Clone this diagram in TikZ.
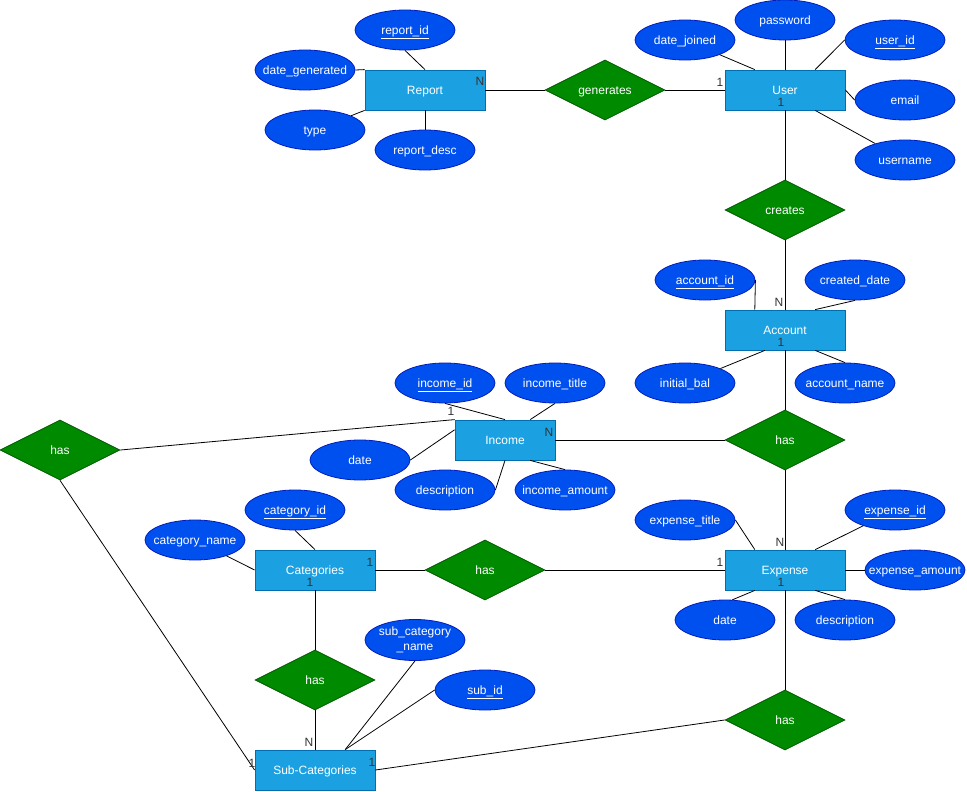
\documentclass[tikz,border=0pt]{standalone}
\usepackage{fontspec}
\setmainfont{Liberation Sans}
\usepackage{tikz}
\usetikzlibrary{positioning,calc,shapes.geometric}
\definecolor{entfill}{HTML}{1BA1E2}
\definecolor{entline}{HTML}{006EAF}
\definecolor{relfill}{HTML}{008A00}
\definecolor{relline}{HTML}{005700}
\definecolor{attfill}{HTML}{0050EF}
\definecolor{attline}{HTML}{001DBC}
\newcommand{\attrtxt}[1]{\makebox[0pt]{#1}}
\newcommand{\keytxt}[1]{\makebox[0pt]{\underline{#1}}}

\begin{document}
\begin{tikzpicture}[x=1pt,y=-1pt,
  every node/.style={font=\fontsize{12}{14}\selectfont,text height=10.86pt,text depth=2.54pt},
  entity/.style={rectangle,draw=entline,fill=entfill,text=white,minimum width=120pt,minimum height=40pt,inner sep=0pt,line width=0.8pt},
  relation/.style={diamond,aspect=2,draw=relline,fill=relfill,text=white,minimum width=120pt,minimum height=60pt,inner sep=0pt,line width=0.8pt},
  attrib/.style={ellipse,draw=attline,fill=attfill,text=white,minimum width=100pt,minimum height=40pt,inner sep=0pt,line width=0.8pt},
  card/.style={text=black!80,inner sep=0pt},
  link/.style={draw=black,line width=0.8pt}]
  \useasboundingbox (0,0) rectangle (967,792);

  \node[entity] (report) at (425,90) {Report};
  \node[entity] (user) at (785,90) {User};
  \node[entity] (account) at (785,330) {Account};
  \node[entity,minimum width=100pt] (income) at (505,440) {Income};
  \node[entity] (expense) at (785,570) {Expense};
  \node[entity] (categories) at (315,570) {Categories};
  \node[entity] (subcat) at (315,770) {Sub-Categories};

  \node[relation] (generates) at (605,90) {generates};
  \node[relation] (creates) at (785,210) {creates};
  \node[relation] (hasexp) at (785,440) {has};
  \node[relation] (hascat) at (485,570) {has};
  \node[relation] (hassub) at (315,680) {has};
  \node[relation] (hasexpsub) at (785,720) {has};
  \node[relation] (hasinc) at (60,450) {has};

  \node[attrib] (reportid) at (405,30) {\keytxt{report\_id}};
  \node[attrib] (dategen) at (305,70) {\attrtxt{date\_generated}};
  \node[attrib] (rtype) at (315,130) {\attrtxt{type}};
  \node[attrib] (rdesc) at (425,150) {\attrtxt{report\_desc}};
  \node[attrib] (password) at (785,20) {\attrtxt{password}};
  \node[attrib] (datejoined) at (685,40) {\attrtxt{date\_joined}};
  \node[attrib] (userid) at (895,40) {\keytxt{user\_id}};
  \node[attrib] (email) at (905,100) {\attrtxt{email}};
  \node[attrib] (username) at (905,160) {\attrtxt{username}};
  \node[attrib] (accid) at (705,280) {\keytxt{account\_id}};
  \node[attrib] (created) at (855,280) {\attrtxt{created\_date}};
  \node[attrib] (initbal) at (685,383) {\attrtxt{initial\_bal}};
  \node[attrib] (accname) at (845,383) {\attrtxt{account\_name}};
  \node[attrib] (incid) at (445,383) {\keytxt{income\_id}};
  \node[attrib] (inctitle) at (555,383) {\attrtxt{income\_title}};
  \node[attrib] (incdate) at (360,460) {\attrtxt{date}};
  \node[attrib] (incdesc) at (445,490) {\attrtxt{description}};
  \node[attrib] (incamt) at (565,490) {\attrtxt{income\_amount}};
  \node[attrib] (catid) at (295,510) {\keytxt{category\_id}};
  \node[attrib] (catname) at (195,540) {\attrtxt{category\_name}};
  \node[attrib] (exptitle) at (685,520) {\attrtxt{expense\_title}};
  \node[attrib] (expid) at (895,510) {\keytxt{expense\_id}};
  \node[attrib] (expamt) at (915,570) {\attrtxt{expense\_amount}};
  \node[attrib] (expdate) at (725,620) {\attrtxt{date}};
  \node[attrib] (expdesc) at (845,620) {\attrtxt{description}};
  \node[attrib,text height=,text depth=] (subname) at (415,640)
    {\makebox[0pt]{\begin{tabular}{@{}c@{}}sub\_category\\[1pt]\_name\end{tabular}}};
  \node[attrib] (subid) at (485,690) {\keytxt{sub\_id}};

  \draw[link] (reportid.south) -- (report.north);
  \draw[link] (dategen.east) -- (report.north west);
  \draw[link] (rtype) -- (report.south west);
  \draw[link] (rdesc.north) -- (report.south);
  \draw[link] (report.east) -- (generates.west);
  \draw[link] (generates.east) -- (user.west);
  \draw[link] (datejoined) -- ($(user.north west)!0.25!(user.north east)$);
  \draw[link] (password.south) -- (user.north);
  \draw[link] (userid.west) -- ($(user.north west)!0.75!(user.north east)$);
  \draw[link] (user.east) -- (email.west);
  \draw[link] (username) -- ($(user.south west)!0.75!(user.south east)$);
  \draw[link] (user.south) -- (creates.north);
  \draw[link] (creates.south) -- (account.north);
  \draw[link] (accid.east) -- ($(account.north west)!0.25!(account.north east)$);
  \draw[link] (created.south) -- ($(account.north west)!0.75!(account.north east)$);
  \draw[link] (initbal) -- ($(account.south west)!1/3!(account.south east)$);
  \draw[link] (accname.north) -- ($(account.south west)!0.75!(account.south east)$);
  \draw[link] (account.south) -- (hasexp.north);
  \draw[link] (hasexp.south) -- (expense.north);
  \draw[link] (income.east) -- (hasexp.west);
  \draw[link] (incid.south) -- (income.north);
  \draw[link] (inctitle.south) -- ($(income.north west)!0.75!(income.north east)$);
  \draw[link] (incdate.east) -- ($(income.north west)!0.25!(income.south west)$);
  \draw[link] (incdesc.east) -- (income.south);
  \draw[link] (incamt.north) -- ($(income.south west)!0.75!(income.south east)$);
  \draw[link] (hasinc.east) -- (income.north west);
  \draw[link] (hasinc.south) -- (subcat.west);
  \draw[link] (catid.south) -- (categories.north);
  \draw[link] (catname) -- (categories.west);
  \draw[link] (categories.east) -- (hascat.west);
  \draw[link] (hascat.east) -- (expense.west);
  \draw[link] (categories.south) -- (hassub.north);
  \draw[link] (hassub.south) -- (subcat.north);
  \draw[link] (subname.south) -- ($(subcat.north west)!0.75!(subcat.north east)$);
  \draw[link] (subid.west) -- ($(subcat.north west)!0.75!(subcat.north east)$);
  \draw[link] (exptitle.east) -- ($(expense.north west)!0.25!(expense.north east)$);
  \draw[link] (expid) -- ($(expense.north west)!0.75!(expense.north east)$);
  \draw[link] (expense.east) -- (expamt.west);
  \draw[link] (expdate.70) -- ($(expense.south west)!0.25!(expense.south east)$);
  \draw[link] (expdesc.north) -- ($(expense.south west)!0.75!(expense.south east)$);
  \draw[link] (expense.south) -- (hasexpsub.north);
  \draw[link] (hasexpsub.west) -- (subcat.east);

  \node[card] (cReport) at (480,81) {N};
  \node[card] (cUserL) at (720,82) {1};
  \node[card] (cUserB) at (781,102) {1};
  \node[card] (cAccT) at (779,302) {N};
  \node[card] (cAccB) at (781,342) {1};
  \node[card] (cIncL) at (451,411) {1};
  \node[card] (cIncR) at (549,432) {N};
  \node[card] (cExpT) at (780,542) {N};
  \node[card] (cExpL) at (720,562) {1};
  \node[card] (cExpB) at (781,582) {1};
  \node[card] (cCatR) at (370,562) {1};
  \node[card] (cCatB) at (310,582) {1};
  \node[card] (cSubT) at (309,742) {N};
  \node[card] (cSubR) at (372,762) {1};
  \node[card] (cSubL) at (252,763) {1};
\end{tikzpicture}
\end{document}
